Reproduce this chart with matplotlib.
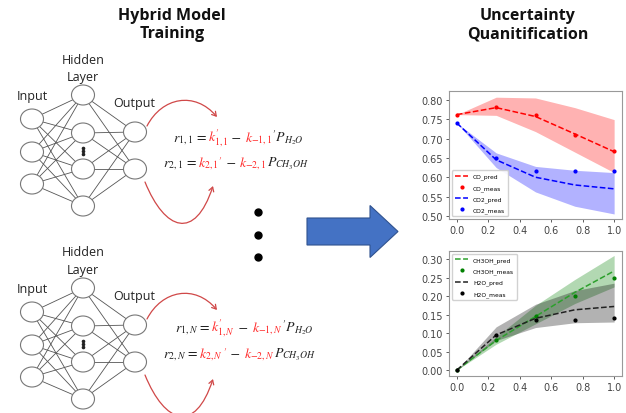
import matplotlib
matplotlib.use("Agg")
import matplotlib.pyplot as plt
from matplotlib.patches import Ellipse, FancyArrow, FancyArrowPatch
from matplotlib.path import Path
from matplotlib.offsetbox import TextArea, HPacker, AnnotationBbox

plt.rcParams['mathtext.fontset'] = 'stix'

# ---------------- data ----------------
x_frac = [0.0, 0.25, 0.5, 0.75, 1.0]

co_pred = [0.762, 0.780, 0.757, 0.712, 0.666]
co_hi = [0.762, 0.807, 0.805, 0.780, 0.749]
co_lo = [0.762, 0.760, 0.718, 0.665, 0.612]
co_meas = [0.762, 0.782, 0.760, 0.709, 0.667]

co2_pred = [0.740, 0.645, 0.600, 0.580, 0.570]
co2_hi = [0.740, 0.663, 0.628, 0.618, 0.612]
co2_lo = [0.740, 0.625, 0.562, 0.525, 0.505]
co2_meas = [0.740, 0.650, 0.615, 0.617, 0.615]

meoh_pred = [0.0, 0.080, 0.145, 0.210, 0.268]
meoh_hi = [0.0, 0.090, 0.175, 0.245, 0.310]
meoh_lo = [0.0, 0.070, 0.125, 0.180, 0.225]
meoh_meas = [0.0, 0.080, 0.145, 0.200, 0.250]

h2o_pred = [0.0, 0.095, 0.140, 0.163, 0.172]
h2o_hi = [0.0, 0.117, 0.178, 0.215, 0.235]
h2o_lo = [0.0, 0.080, 0.115, 0.128, 0.130]
h2o_meas = [0.0, 0.096, 0.135, 0.135, 0.141]

x_ticks = [0.0, 0.2, 0.4, 0.6, 0.8, 1.0]
top_yticks = [0.50, 0.55, 0.60, 0.65, 0.70, 0.75, 0.80]
bot_yticks = [0.00, 0.05, 0.10, 0.15, 0.20, 0.25, 0.30]

# ---------------- figure ----------------
W, H = 626, 414
fig = plt.figure(figsize=(W / 100, H / 100), dpi=100)
ax = fig.add_axes([0, 0, 1, 1])
ax.set_xlim(0, W)
ax.set_ylim(H, 0)
ax.axis('off')

label_font = dict(family='Open Sans', fontsize=9, color='#222222')
title_font = dict(family='Open Sans', fontsize=11.5, fontweight='bold', color='#111111')

ax.text(172, 25, "Hybrid Model\nTraining", ha='center', va='center',
        linespacing=1.2, **title_font)
ax.text(528, 25, "Uncertainty\nQuanitification", ha='center', va='center',
        linespacing=1.2, **title_font)

RED = '#d04848'


def network(dy):
    inp = [(32, 120 + dy), (32, 153 + dy), (32, 185 + dy)]
    hid = [(83, 96 + dy), (83, 134 + dy), (83, 170 + dy), (83, 207 + dy)]
    out = [(135, 133 + dy), (135, 170 + dy)]
    for a in inp:
        for b in hid:
            ax.plot([a[0], b[0]], [a[1], b[1]], color='#555555', lw=0.6, zorder=1)
    for a in hid:
        for b in out:
            ax.plot([a[0], b[0]], [a[1], b[1]], color='#555555', lw=0.6, zorder=1)
    for (cx, cy) in inp + hid + out:
        ax.add_patch(Ellipse((cx, cy), 23, 20, facecolor='white',
                             edgecolor='#777777', lw=0.8, zorder=2))
    for k in range(3):
        ax.plot(83, 148.5 + dy + 3 * k, 'o', color='#222222', ms=1.6, zorder=3)
    ax.text(32, 97 + dy, "Input", ha='center', va='center', **label_font)
    ax.text(83, 60 + dy, "Hidden", ha='center', va='center', **label_font)
    ax.text(83, 78 + dy, "Layer", ha='center', va='center', **label_font)
    ax.text(134, 104 + dy, "Output", ha='center', va='center', **label_font)
    # red curved arrows
    up = Path([(147, 127 + dy), (162, 98 + dy), (195, 92 + dy), (217, 118 + dy)],
              [Path.MOVETO, Path.CURVE4, Path.CURVE4, Path.CURVE4])
    lo = Path([(145, 183 + dy), (165, 232 + dy), (195, 242 + dy), (213, 187 + dy)],
              [Path.MOVETO, Path.CURVE4, Path.CURVE4, Path.CURVE4])
    for p in (up, lo):
        ax.add_patch(FancyArrowPatch(path=p, arrowstyle='->,head_length=3,head_width=1.8',
                                     color=RED, lw=0.9, zorder=2))


network(0)
network(193)

EQ_FS = 10
K_RED = '#ff2a2a'
BLK = '#222222'


def equation(x, y, parts):
    boxes = [TextArea(s, textprops=dict(color=c, fontsize=EQ_FS, family='STIXGeneral'))
             for s, c in parts]
    pk = HPacker(children=boxes, align='baseline', pad=0, sep=0)
    ab = AnnotationBbox(pk, (x, y), xycoords='data', box_alignment=(0, 0.5),
                        frameon=False, pad=0)
    ax.add_artist(ab)


for dy, idx in ((0, '1'), (193, 'N')):
    equation(173 if idx == '1' else 175, 138 + dy - (3 if idx == 'N' else 0), [
        (r"$r_{1,%s}$ = " % idx, BLK),
        (r"$k^{\prime}_{1,%s}$" % idx, K_RED),
        (" \u2212 ", BLK),
        (r"$k_{-1,%s}$" % idx, K_RED),
        (r"$'P_{H_2O}$", BLK),
    ])
    equation(163, 164 + dy - (2 if idx == 'N' else 0), [
        (r"$r_{2,%s}$ = " % idx, BLK),
        (r"$k_{2,%s}$" % idx, K_RED),
        (r"$'$", K_RED),
        (" \u2212 ", BLK),
        (r"$k_{-2,%s}$" % idx, K_RED),
        (r"$P_{CH_3OH}$", BLK),
    ])

# ellipsis dots
for yy in (213, 236, 258):
    ax.plot(258, yy, 'o', color='black', ms=5)

# big blue arrow
ax.add_patch(FancyArrow(307, 232.5, 91, 0, width=27, head_width=52, head_length=28,
                        length_includes_head=True, facecolor='#4472C4',
                        edgecolor='#2F528F', lw=0.8))

# ---------------- charts ----------------
def style_chart(a, yticks, ylim):
    a.set_xlim(-0.05, 1.05)
    a.set_ylim(*ylim)
    a.set_xticks(x_ticks)
    a.set_yticks(yticks)
    a.set_xticklabels([f"{v:.1f}" for v in x_ticks])
    a.set_yticklabels([f"{v:.2f}" for v in yticks])
    a.tick_params(labelsize=7, colors='#444444', length=2.5, width=0.6, pad=2)
    for s in a.spines.values():
        s.set_color('#999999')
        s.set_linewidth(0.8)


ax1 = fig.add_axes([449 / W, 1 - 220 / H, 173 / W, 128 / H])
ax1.fill_between(x_frac, co_lo, co_hi, color='red', alpha=0.3, lw=0)
ax1.fill_between(x_frac, co2_lo, co2_hi, color='blue', alpha=0.3, lw=0)
ax1.plot(x_frac, co_pred, '--', color='red', lw=1.1, label='CO_pred')
ax1.plot(x_frac, co_meas, 'o', color='red', ms=2, label='CO_meas')
ax1.plot(x_frac, co2_pred, '--', color='blue', lw=1.1, label='CO2_pred')
ax1.plot(x_frac, co2_meas, 'o', color='blue', ms=2, label='CO2_meas')
style_chart(ax1, top_yticks, (0.492, 0.823))
ax1.legend(loc='lower left', fontsize=4.3, handlelength=2.2, borderpad=0.5,
           labelspacing=0.9, framealpha=0.9, edgecolor='#cccccc')

ax2 = fig.add_axes([449 / W, 1 - 377 / H, 173 / W, 125 / H])
ax2.fill_between(x_frac, meoh_lo, meoh_hi, color='green', alpha=0.3, lw=0)
ax2.fill_between(x_frac, h2o_lo, h2o_hi, color='black', alpha=0.3, lw=0)
ax2.plot(x_frac, meoh_pred, '--', color='#2ca02c', lw=1.1, label='CH3OH_pred')
ax2.plot(x_frac, meoh_meas, 'o', color='green', ms=2, label='CH3OH_meas')
ax2.plot(x_frac, h2o_pred, '--', color='#222222', lw=1.1, label='H2O_pred')
ax2.plot(x_frac, h2o_meas, 'o', color='black', ms=2, label='H2O_meas')
style_chart(ax2, bot_yticks, (-0.016, 0.322))
ax2.legend(loc='upper left', fontsize=4.3, handlelength=2.2, borderpad=0.5,
           labelspacing=0.9, framealpha=0.9, edgecolor='#cccccc')

fig.savefig('out.png', dpi=100)
